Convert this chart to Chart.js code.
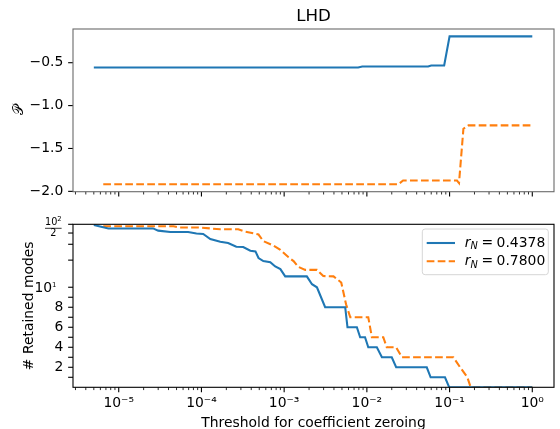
<!DOCTYPE html>
<html>
<head>
<meta charset="utf-8">
<script src="https://cdn.jsdelivr.net/npm/chart.js@4.4.0/dist/chart.umd.min.js"></script>
<style>
  html, body { margin: 0; padding: 0; background: #fff; }
  #wrap { position: relative; width: 560px; height: 429px; overflow: hidden; }
  canvas { position: absolute; left: 0; }
</style>
</head>
<body>
<div id="wrap">
  <canvas id="topChart" width="560" height="208" style="top:0"></canvas>
  <canvas id="bottomChart" width="560" height="221" style="top:208px"></canvas>
</div>
<script>
const chartTitle = 'LHD';
const topYTitle = '\u{1D4AB}';
const bottomYTitle = '# Retained modes';
const xTitle = 'Threshold for coefficient zeroing';
const legendValues = ['0.4378', '0.7800'];

// top panel
const topBlueX = [5e-6, 7.85e-3, 8.8e-3, 0.055, 0.06, 0.086, 0.1, 1];
const topBlueY = [-0.556, -0.556, -0.544, -0.544, -0.532, -0.532, -0.193, -0.193];
const topOrangeX = [6.5e-6, 0.0239, 0.0274, 0.123, 0.13, 0.147, 0.169, 1];
const topOrangeY = [-1.918, -1.918, -1.874, -1.874, -1.903, -1.27, -1.231, -1.231];

// bottom panel (retained modes)
const botBlueX = [5e-6, 7.5e-6, 2.6e-5, 3.0e-5, 4.2e-5, 6.9e-5, 8.7e-5, 1.05e-4, 1.28e-4, 1.69e-4,
  2.1e-4, 2.64e-4, 3.2e-4, 3.9e-4, 4.5e-4, 4.9e-4, 5.6e-4, 6.8e-4, 7.8e-4, 9.0e-4,
  1.03e-3, 1.88e-3, 2.17e-3, 2.49e-3, 3.13e-3, 5.47e-3, 5.83e-3, 7.57e-3, 8.3e-3, 9.5e-3,
  1.04e-2, 1.32e-2, 1.52e-2, 2.0e-2, 2.26e-2, 5.3e-2, 5.9e-2, 8.8e-2, 9.9e-2, 1];
const botBlueY = [49, 45, 45, 42.5, 41, 41, 39.5, 39, 34.3, 32,
  31, 28.2, 28, 25.4, 25, 21.1, 19.5, 19, 17, 15.9,
  13.2, 13.2, 10.8, 10, 8, 8, 6, 6, 5, 5,
  4, 4, 3, 3, 2, 2, 1, 1, 0, 0];
const botOrangeX = [6.5e-6, 4.6e-5, 5.5e-5, 9.7e-5, 1.69e-4, 2.79e-4, 3.2e-4, 4.9e-4, 5.6e-4, 7.4e-4,
  9.0e-4, 1.13e-3, 1.3e-3, 1.49e-3, 1.8e-3, 2.49e-3, 2.97e-3, 3.95e-3, 4.9e-3, 5.6e-3,
  6.3e-3, 1.04e-2, 1.15e-2, 1.58e-2, 1.74e-2, 2.26e-2, 2.65e-2, 0.111, 0.134, 0.164, 0.18, 1];
const botOrangeY = [47.5, 47.5, 46, 46, 44, 44, 42, 38.5, 32.5, 29,
  26, 21.5, 19.5, 16.8, 15.6, 15.6, 13.3, 13.2, 11.3, 8.3,
  7, 7, 5, 5, 4, 4, 3, 3, 2, 1, 0, 0];

// ticks
const xDecades = [1e-6, 1e-5, 1e-4, 1e-3, 1e-2, 1e-1, 1];
const xMinorFactors = [2, 3, 4, 5, 6, 7, 8, 9];
const topYTicks = [-2.0, -1.5, -1.0, -0.5];
const modeTicks = [1, 2, 3, 4, 5, 6, 7, 8, 9, 10, 20, 30, 40, 50];
const modeTickLabels = { 2: '2', 4: '4', 6: '6', 8: '8' };

const xMin = 2.8e-6, xMax = 1.83;
const topYMin = -2.004, topYMax = -0.107;
const modeMin = 0, modeMax = 50;

const blue = '#1f77b4', orange = '#ff7f0e';
const FONT = "'DejaVu Sans', sans-serif";
const FS = 13.9;
const sup = { '-': '\u207B', '0': '\u2070', '1': '\u00B9', '2': '\u00B2', '3': '\u00B3', '4': '\u2074', '5': '\u2075', '6': '\u2076', '7': '\u2077', '8': '\u2078', '9': '\u2079' };

const xTickValues = [];
xDecades.forEach(d => {
  [1, ...xMinorFactors].forEach(f => {
    const v = d * f;
    if (v >= xMin && v <= xMax) xTickValues.push(v);
  });
});
const isDecade = v => Math.abs(Math.log10(v) - Math.round(Math.log10(v))) < 1e-9;

// symlog scale like matplotlib (linthresh 10, linscale 1)
const linThresh = 10;
const linScaleAdj = 1 / (1 - 1 / 10);
function symlog(v) {
  const a = Math.abs(v);
  const t = a <= linThresh ? a * linScaleAdj : linThresh * (linScaleAdj + Math.log10(a / linThresh));
  return Math.sign(v) * t;
}
function symexp(t) {
  const a = Math.abs(t);
  const v = a <= linThresh * linScaleAdj ? a / linScaleAdj : linThresh * Math.pow(10, a / linThresh - linScaleAdj);
  return Math.sign(t) * v;
}
class SymlogScale extends Chart.LinearScale {
  buildTicks() {
    this.start = this.min;
    this.end = this.max;
    return modeTicks.map(v => ({ value: v }));
  }
  getPixelForValue(v) {
    const lo = symlog(this.min), hi = symlog(this.max);
    return this.getPixelForDecimal((symlog(v) - lo) / (hi - lo));
  }
  getValueForPixel(p) {
    const lo = symlog(this.min), hi = symlog(this.max);
    return symexp(lo + this.getDecimalForPixel(p) * (hi - lo));
  }
}
SymlogScale.id = 'symlog';
SymlogScale.defaults = {};
Chart.register(SymlogScale);

const zip = (xs, ys) => xs.map((x, i) => ({ x: x, y: ys[i] }));

// frame, tick marks and the texts matplotlib puts around the axes
const mplFrame = {
  id: 'mplFrame',
  afterDraw(chart, args, o) {
    const { ctx, chartArea: a } = chart;
    ctx.save();
    ctx.strokeStyle = '#000';
    const xs = chart.scales.x;
    xTickValues.forEach(v => {
      const p = xs.getPixelForValue(v);
      const major = isDecade(v);
      ctx.lineWidth = major ? 1.1 : 0.83;
      ctx.beginPath();
      ctx.moveTo(p, a.bottom);
      ctx.lineTo(p, a.bottom + (major ? 4.86 : 2.78));
      ctx.stroke();
    });
    const ys = chart.scales.y;
    ys.ticks.forEach(t => {
      const p = ys.getPixelForValue(t.value);
      ctx.lineWidth = 1.1;
      ctx.beginPath();
      ctx.moveTo(a.left, p);
      ctx.lineTo(a.left - 4.86, p);
      ctx.stroke();
    });
    ctx.strokeStyle = o.frameColor || '#000';
    ctx.lineWidth = 1.1;
    ctx.strokeRect(a.left, a.top, a.right - a.left, a.bottom - a.top);

    ctx.fillStyle = '#000';
    if (o.title) {
      ctx.font = `16.7px ${FONT}`;
      ctx.textAlign = 'center';
      ctx.textBaseline = 'alphabetic';
      ctx.fillText(o.title, (a.left + a.right) / 2, a.top - 8.3);
    }
    if (o.yTitle) {
      ctx.save();
      ctx.translate(o.yTitleX, (a.top + a.bottom) / 2);
      ctx.rotate(-Math.PI / 2);
      ctx.font = `${FS}px ${FONT}`;
      ctx.textAlign = 'center';
      ctx.textBaseline = 'alphabetic';
      ctx.fillText(o.yTitle, 0, 0);
      ctx.restore();
    }
    if (o.xTitle) {
      ctx.font = `${FS}px ${FONT}`;
      ctx.textAlign = 'center';
      ctx.textBaseline = 'alphabetic';
      ctx.fillText(o.xTitle, (a.left + a.right) / 2, a.bottom + 39.5);
    }
    if (o.fraction) {
      ctx.textBaseline = 'alphabetic';
      // 10^1 label at the linear / log join
      const t10 = ys.getPixelForValue(10);
      ctx.font = `6.9px ${FONT}`;
      ctx.textAlign = 'right';
      ctx.fillText('1', a.left - 16.5, t10 - 0.5);
      const w1 = ctx.measureText('1').width;
      ctx.font = `${FS}px ${FONT}`;
      ctx.fillText('10', a.left - 16.5 - w1, t10 + 5.1);

      // tick label 10^2/2 at the top of the mode axis
      const cx = a.left - 19.7;
      const ty = ys.getPixelForValue(modeMax);
      ctx.font = `9.7px ${FONT}`;
      ctx.textAlign = 'left';
      const w10 = ctx.measureText('10').width;
      ctx.font = `6.8px ${FONT}`;
      const w2 = ctx.measureText('2').width;
      const nx = cx - (w10 + w2) / 2;
      ctx.font = `9.7px ${FONT}`;
      ctx.fillText('10', nx, ty + 0.9);
      ctx.font = `6.8px ${FONT}`;
      ctx.fillText('2', nx + w10, ty - 3);
      ctx.lineWidth = 0.8;
      ctx.beginPath();
      ctx.moveTo(cx - 8.3, ty + 4);
      ctx.lineTo(cx + 8.3, ty + 4);
      ctx.stroke();
      ctx.font = `9.7px ${FONT}`;
      ctx.textAlign = 'center';
      ctx.fillText('2', cx, ty + 12);
    }
    if (o.legend) {
      const w = 126, h = 45.7;
      const lx = a.right - 5.7 - w, ly = a.top + 4.7;
      ctx.beginPath();
      ctx.roundRect(lx, ly, w, h, 2.8);
      ctx.fillStyle = 'rgba(255,255,255,0.8)';
      ctx.fill();
      ctx.strokeStyle = '#d6d6d6';
      ctx.lineWidth = 1;
      ctx.stroke();
      const rows = [
        { color: blue, dash: [], value: legendValues[0], ly: ly + 14, by: ly + 17.6 },
        { color: orange, dash: [7.7, 3.3], value: legendValues[1], ly: ly + 32.3, by: ly + 35.9 }
      ];
      rows.forEach(r => {
        ctx.strokeStyle = r.color;
        ctx.lineWidth = 2.08;
        ctx.setLineDash(r.dash);
        ctx.beginPath();
        ctx.moveTo(lx + 4.4, r.ly);
        ctx.lineTo(lx + 32.7, r.ly);
        ctx.stroke();
        ctx.setLineDash([]);
        ctx.fillStyle = '#000';
        ctx.textAlign = 'left';
        ctx.textBaseline = 'alphabetic';
        let x = lx + 42.5;
        ctx.font = `italic ${FS}px ${FONT}`;
        ctx.fillText('r', x, r.by);
        x += ctx.measureText('r').width;
        ctx.font = `italic ${FS * 0.7}px ${FONT}`;
        ctx.fillText('N', x, r.by + 2.8);
        x += ctx.measureText('N').width + 3.6;
        ctx.font = `${FS}px ${FONT}`;
        ctx.fillText('=', x, r.by);
        x += ctx.measureText('=').width + 3.6;
        ctx.fillText(r.value, x, r.by);
      });
    }
    ctx.restore();
  }
};

const tickFont = { family: FONT, size: FS };
const hiddenGrid = { display: true, drawOnChartArea: false, drawTicks: true, tickLength: 4.86, tickColor: 'rgba(0,0,0,0)' };
const supLabel = v => '10' + String(Math.round(Math.log10(v))).split('').map(c => sup[c]).join('');

function lineSet(xs, ys, color, dash) {
  return {
    data: zip(xs, ys),
    borderColor: color,
    backgroundColor: color,
    borderWidth: 2.08,
    borderDash: dash,
    pointRadius: 0,
    tension: 0,
    fill: false
  };
}

new Chart(document.getElementById('topChart'), {
  type: 'line',
  data: {
    datasets: [
      lineSet(topBlueX, topBlueY, blue, []),
      lineSet(topOrangeX, topOrangeY, orange, [7.7, 3.3])
    ]
  },
  options: {
    responsive: false,
    animation: false,
    devicePixelRatio: 1,
    layout: { padding: { left: 0, right: 6, top: 29, bottom: 0 } },
    plugins: {
      legend: { display: false },
      tooltip: { enabled: false },
      mplFrame: { frameColor: '#6a6a6a', title: chartTitle, yTitle: topYTitle, yTitleX: 23 }
    },
    scales: {
      x: {
        type: 'logarithmic', min: xMin, max: xMax,
        afterBuildTicks: s => { s.ticks = xTickValues.map(v => ({ value: v })); },
        ticks: { display: false },
        grid: hiddenGrid,
        border: { display: false },
        afterFit: s => { s.height = 16.3; }
      },
      y: {
        type: 'linear', min: topYMin, max: topYMax,
        afterBuildTicks: s => { s.ticks = topYTicks.map(v => ({ value: v })); },
        ticks: { font: tickFont, color: '#000', padding: 4.86, callback: v => v.toFixed(1).replace('-', '\u2212') },
        grid: hiddenGrid,
        border: { display: false },
        afterFit: s => { s.width = 73; }
      }
    }
  },
  plugins: [mplFrame]
});

new Chart(document.getElementById('bottomChart'), {
  type: 'line',
  data: {
    datasets: [
      lineSet(botBlueX, botBlueY, blue, []),
      lineSet(botOrangeX, botOrangeY, orange, [7.7, 3.3])
    ]
  },
  options: {
    responsive: false,
    animation: false,
    devicePixelRatio: 1,
    layout: { padding: { left: 0, right: 6, top: 16.3, bottom: 0 } },
    plugins: {
      legend: { display: false },
      tooltip: { enabled: false },
      mplFrame: { yTitle: bottomYTitle, yTitleX: 33.3, xTitle: xTitle, fraction: true, legend: true }
    },
    scales: {
      x: {
        type: 'logarithmic', min: xMin, max: xMax,
        afterBuildTicks: s => { s.ticks = xTickValues.map(v => ({ value: v })); },
        ticks: { font: tickFont, color: '#000', padding: 2.5, autoSkip: false, maxRotation: 0, minRotation: 0,
          callback: v => isDecade(v) ? supLabel(v) : '' },
        grid: hiddenGrid,
        border: { display: false },
        afterFit: s => { s.height = 41.7; }
      },
      y: {
        type: 'symlog', min: modeMin, max: modeMax,
        ticks: { font: tickFont, color: '#000', padding: 4.86, autoSkip: false,
          callback: v => modeTickLabels[v] || '' },
        grid: hiddenGrid,
        border: { display: false },
        afterFit: s => { s.width = 73; }
      }
    }
  },
  plugins: [mplFrame]
});
</script>
</body>
</html>
